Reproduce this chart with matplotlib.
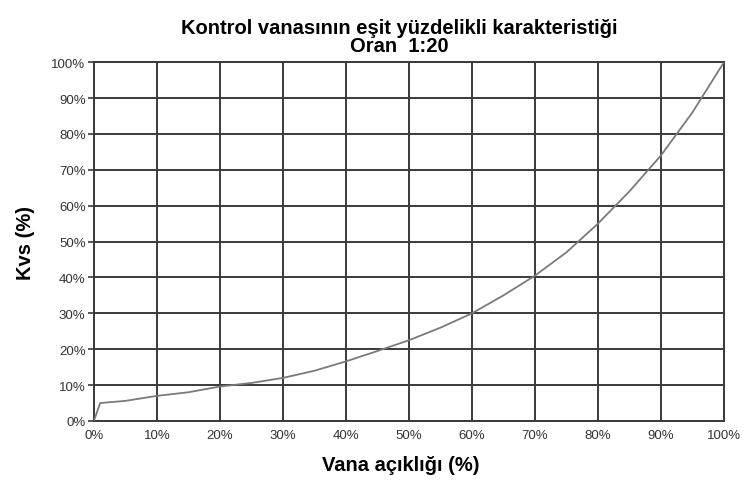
import matplotlib
matplotlib.use('Agg')
import matplotlib.pyplot as plt
from matplotlib.ticker import PercentFormatter

plt.rcParams['font.family'] = ['Liberation Sans', 'DejaVu Sans']

# vana açıklığı (%) ve karşılık gelen Kvs (%)
aciklik = [0, 1, 5, 10, 15, 20, 25, 30, 35, 40, 45, 50, 55, 60, 65, 70, 75, 80, 85, 90, 95, 100]
kvs = [0, 5, 5.6, 7, 8, 9.6, 10.6, 12, 14, 16.6, 19.5, 22.5, 26, 30, 35, 40.5, 47, 55, 64, 74, 86, 100]

ticks = list(range(0, 101, 10))

fig = plt.figure(figsize=(7.51, 4.81), dpi=100)
ax = fig.add_axes([0.125, 0.1227, 0.839, 0.746])

ax.plot(aciklik, kvs, color='#7a7a7a', linewidth=1.3, zorder=3)

ax.set_xlim(0, 100)
ax.set_ylim(0, 100)
ax.set_xticks(ticks)
ax.set_yticks(ticks)
ax.xaxis.set_major_formatter(PercentFormatter(decimals=0))
ax.yaxis.set_major_formatter(PercentFormatter(decimals=0))
ax.grid(True, color='#3a3a3a', linewidth=1.4)
for s in ax.spines.values():
    s.set_color('#3a3a3a')
    s.set_linewidth(1.4)
ax.tick_params(axis='y', length=4, width=1.2, color='#3a3a3a', labelsize=9.5,
               labelcolor='#333333', pad=2)
ax.tick_params(axis='x', length=0, labelsize=9.5, labelcolor='#333333', pad=6)

ax.set_title('Kontrol vanasının eşit yüzdelikli karakteristiği\nOran  1:20',
             fontsize=14.5, fontweight='bold', linespacing=0.95, pad=8, x=0.484)
ax.set_xlabel('Vana açıklığı (%)', fontsize=14.5, fontweight='bold')
ax.xaxis.set_label_coords(0.487, -0.095)
ax.set_ylabel('Kvs (%)', fontsize=14.5, fontweight='bold', labelpad=12)

fig.savefig('out.png', dpi=100)
